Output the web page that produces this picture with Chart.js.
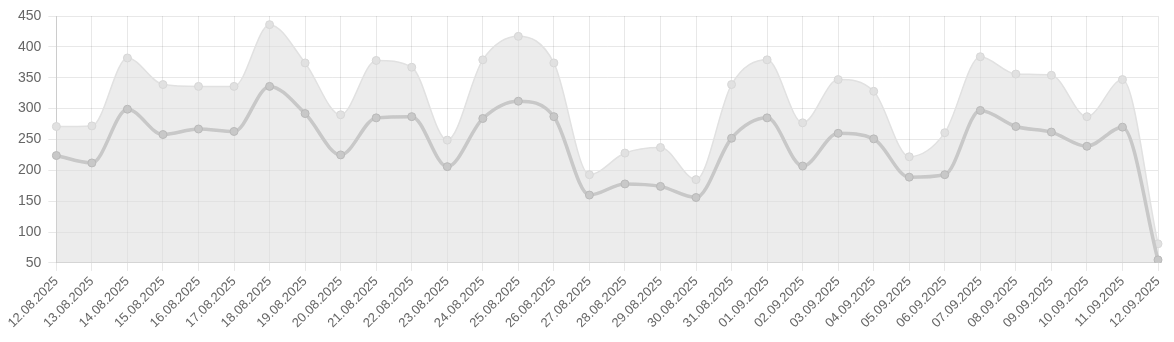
<!DOCTYPE html>
<html>
<head>
<meta charset="utf-8">
<script src="https://cdn.jsdelivr.net/npm/chart.js@4"></script>
<style>
  html, body { margin: 0; padding: 0; background: #fff; }
  #wrap { width: 1174px; height: 342px; }
</style>
</head>
<body>
<div id="wrap"><canvas id="chart"></canvas></div>
<script>
const labels = [
  '12.08.2025', '13.08.2025', '14.08.2025', '15.08.2025', '16.08.2025', '17.08.2025', '18.08.2025', '19.08.2025',
  '20.08.2025', '21.08.2025', '22.08.2025', '23.08.2025', '24.08.2025', '25.08.2025', '26.08.2025', '27.08.2025',
  '28.08.2025', '29.08.2025', '30.08.2025', '31.08.2025', '01.09.2025', '02.09.2025', '03.09.2025', '04.09.2025',
  '05.09.2025', '06.09.2025', '07.09.2025', '08.09.2025', '09.09.2025', '10.09.2025', '11.09.2025', '12.09.2025'
];

const upperValues = [
  271, 272, 382, 339, 336, 336, 436, 374,
  290, 378, 367, 249, 379, 417, 374, 193,
  228, 237, 185, 339, 379, 277, 347, 328,
  222, 261, 384, 356, 354, 287, 347, 81
];

const lowerValues = [
  224, 212, 299, 258, 267, 263, 336, 292,
  225, 285, 287, 206, 284, 312, 287, 160,
  178, 174, 156, 252, 285, 207, 260, 251,
  189, 193, 297, 271, 262, 239, 270, 55
];

const ctx = document.getElementById('chart').getContext('2d');

new Chart(ctx, {
  type: 'line',
  data: {
    labels: labels,
    datasets: [
      {
        data: lowerValues,
        borderColor: 'rgba(200,200,200,1)',
        backgroundColor: 'rgba(200,200,200,1)',
        borderWidth: 3.5,
        pointRadius: 4,
        pointBorderWidth: 1,
        pointBackgroundColor: 'rgba(200,200,200,1)',
        pointBorderColor: 'rgba(185,185,185,1)',
        fill: false,
        cubicInterpolationMode: 'monotone'
      },
      {
        data: upperValues,
        borderColor: 'rgba(225,225,225,1)',
        backgroundColor: 'rgba(220,220,220,0.55)',
        borderWidth: 1.5,
        pointRadius: 4,
        pointBorderWidth: 1,
        pointBackgroundColor: 'rgba(225,225,225,1)',
        pointBorderColor: 'rgba(215,215,215,1)',
        fill: 'origin',
        cubicInterpolationMode: 'monotone'
      }
    ]
  },
  options: {
    responsive: true,
    maintainAspectRatio: false,
    animation: false,
    layout: { padding: { left: 11, right: 16, top: 16, bottom: 8 } },
    plugins: {
      legend: { display: false },
      tooltip: { enabled: false }
    },
    scales: {
      x: {
        grid: { color: 'rgba(0,0,0,0.09)' },
        border: { color: 'rgba(0,0,0,0.12)' },
        ticks: {
          color: '#666',
          font: { family: 'Liberation Sans, Arial, sans-serif', size: 13 },
          maxRotation: 45,
          minRotation: 45,
          autoSkip: false
        }
      },
      y: {
        min: 50,
        max: 450,
        grid: { color: 'rgba(0,0,0,0.09)' },
        border: { color: 'rgba(0,0,0,0.12)' },
        ticks: {
          stepSize: 50,
          padding: 7,
          color: '#666',
          font: { family: 'Liberation Sans, Arial, sans-serif', size: 14 }
        }
      }
    }
  }
});
</script>
</body>
</html>
